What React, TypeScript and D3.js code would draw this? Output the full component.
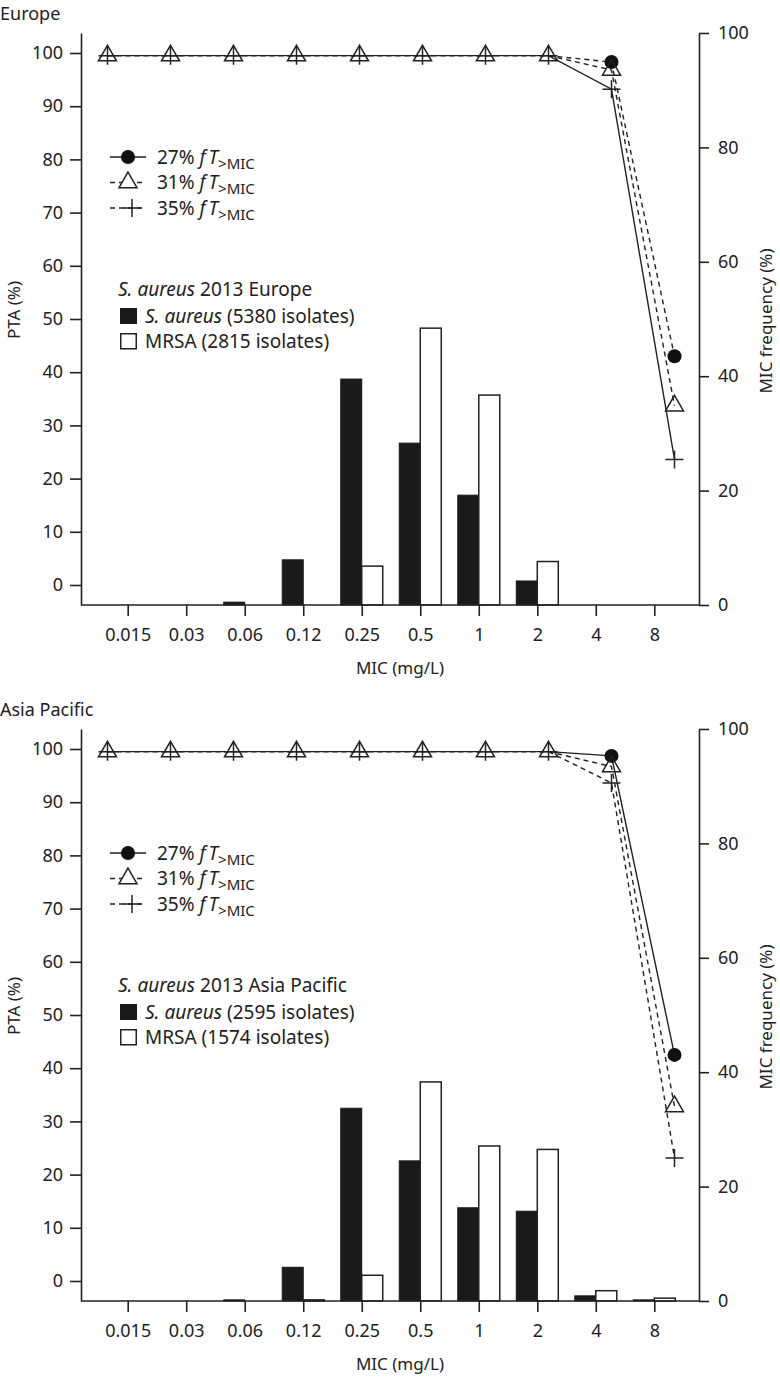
import React, { useEffect, useRef } from 'react';
import * as d3 from 'd3';

// MIC categories (mg/L)
const micLabels = ['0.015', '0.03', '0.06', '0.12', '0.25', '0.5', '1', '2', '4', '8'];
const ptaTicks = [0, 10, 20, 30, 40, 50, 60, 70, 80, 90, 100];
const freqTicks = [0, 20, 40, 60, 80, 100];

// Europe: MIC frequency (%)
const euSaureus = [0, 0, 0.5, 7.9, 39.5, 28.3, 19.2, 4.2, 0, 0];
const euMrsa = [0, 0, 0, 0, 6.8, 48.4, 36.7, 7.6, 0, 0];
// Europe: PTA (%)
const euPta27 = [99.5, 99.5, 99.5, 99.5, 99.5, 99.5, 99.5, 99.5, 98.3, 43.0];
const euPta31 = [99.5, 99.5, 99.5, 99.5, 99.5, 99.5, 99.5, 99.5, 96.8, 33.7];
const euPta35 = [99.5, 99.5, 99.5, 99.5, 99.5, 99.5, 99.5, 99.5, 93.2, 23.6];

// Asia Pacific: MIC frequency (%)
const apSaureus = [0, 0, 0.2, 5.9, 33.7, 24.5, 16.3, 15.7, 0.9, 0.2];
const apMrsa = [0, 0, 0, 0.2, 4.5, 38.3, 27.1, 26.5, 1.8, 0.5];
// Asia Pacific: PTA (%)
const apPta27 = [99.5, 99.5, 99.5, 99.5, 99.5, 99.5, 99.5, 99.5, 98.7, 42.5];
const apPta31 = [99.5, 99.5, 99.5, 99.5, 99.5, 99.5, 99.5, 99.5, 96.7, 32.8];
const apPta35 = [99.5, 99.5, 99.5, 99.5, 99.5, 99.5, 99.5, 99.5, 93.6, 23.1];

const targets = ['27%', '31%', '35%'];
const font = "'Noto Sans', sans-serif";
const ink = '#222';

const Panel = ({ top, title, legendTitle, saCount, mrsaCount, saureus, mrsa, pta, solid }) => {
  const ref = useRef<SVGGElement>(null);

  useEffect(() => {
    const g = d3.select(ref.current);
    g.selectAll('*').remove();

    const xTick = d3.scalePoint().domain(micLabels).range([127.7, 654.3]);
    const xLine = d3.scalePoint().domain(micLabels).range([107.5, 674.5]);
    const yLeft = d3.scaleLinear().domain([-3.76, 103.76]).range([605, 33]);
    const yRight = d3.scaleLinear().domain([0, 100]).range([605, 33]);
    const barW = 21;

    // bars
    g.append('g')
      .selectAll('rect')
      .data(saureus.map((v, i) => ({ v, c: micLabels[i] })).filter(d => d.v > 0))
      .join('rect')
      .attr('x', d => xTick(d.c) - barW)
      .attr('y', d => yRight(d.v))
      .attr('width', barW)
      .attr('height', d => yRight(0) - yRight(d.v))
      .attr('fill', '#1a1a1a')
      .attr('stroke', '#1a1a1a')
      .attr('stroke-width', 1);

    g.append('g')
      .selectAll('rect')
      .data(mrsa.map((v, i) => ({ v, c: micLabels[i] })).filter(d => d.v > 0))
      .join('rect')
      .attr('x', d => xTick(d.c))
      .attr('y', d => yRight(d.v))
      .attr('width', barW)
      .attr('height', d => yRight(0) - yRight(d.v))
      .attr('fill', '#fff')
      .attr('stroke', ink)
      .attr('stroke-width', 1.5);

    // axes
    const styleAxis = sel => {
      sel.attr('font-family', font).attr('font-size', 18);
      sel.selectAll('path, line').attr('stroke', ink).attr('stroke-width', 1.6);
      sel.selectAll('text').attr('fill', ink);
    };

    g.append('g')
      .attr('transform', 'translate(81,0)')
      .call(d3.axisLeft(yLeft).tickValues(ptaTicks).tickSize(11).tickSizeOuter(0).tickPadding(7))
      .call(styleAxis);

    g.append('g')
      .attr('transform', 'translate(699,0)')
      .call(d3.axisRight(yRight).tickValues(freqTicks).tickSize(10).tickSizeOuter(0).tickPadding(9))
      .call(styleAxis);

    const xAx = g.append('g')
      .attr('transform', 'translate(0,605)')
      .call(d3.axisBottom(xTick).tickSize(11).tickSizeOuter(0).tickPadding(12))
      .call(styleAxis);
    xAx.select('.domain').remove();
    xAx.append('line')
      .attr('x1', 81).attr('x2', 699)
      .attr('stroke', ink).attr('stroke-width', 1.6);

    // PTA lines
    const line = d3.line<number>()
      .x((d, i) => xLine(micLabels[i]))
      .y(d => yLeft(d));

    pta.forEach((s, k) => {
      g.append('path')
        .attr('d', line(s))
        .attr('fill', 'none')
        .attr('stroke', ink)
        .attr('stroke-width', 1.4)
        .attr('stroke-dasharray', k === solid ? null : '5,4');
    });

    const tri = d3.symbol(d3.symbolTriangle, 140)();
    const plus = 'M-9,0H9M0,-9V9';

    // circles at the shared 100% plateau are hidden in the original
    g.append('g')
      .selectAll('circle')
      .data(pta[0].map((v, i) => ({ v, c: micLabels[i] })).filter(d => d.v < 99))
      .join('circle')
      .attr('cx', d => xLine(d.c))
      .attr('cy', d => yLeft(d.v))
      .attr('r', 7)
      .attr('fill', '#111');

    g.append('g')
      .selectAll('path')
      .data(pta[1])
      .join('path')
      .attr('d', tri)
      .attr('transform', (d, i) => `translate(${xLine(micLabels[i])},${yLeft(d)})`)
      .attr('fill', 'none')
      .attr('stroke', ink)
      .attr('stroke-width', 1.5);

    g.append('g')
      .selectAll('path')
      .data(pta[2])
      .join('path')
      .attr('d', plus)
      .attr('transform', (d, i) => `translate(${xLine(micLabels[i])},${yLeft(d)})`)
      .attr('fill', 'none')
      .attr('stroke', ink)
      .attr('stroke-width', 1.5);

    // titles
    g.append('text').attr('x', 0).attr('y', 13.5).attr('dy', '0.35em')
      .attr('font-family', font).attr('font-size', 18).attr('fill', ink).text(title);

    g.append('text')
      .attr('transform', 'translate(14,310) rotate(-90)')
      .attr('text-anchor', 'middle').attr('dy', '0.35em')
      .attr('font-family', font).attr('font-size', 17).attr('fill', ink)
      .text('PTA (%)');

    g.append('text')
      .attr('transform', 'translate(766,321) rotate(-90)')
      .attr('text-anchor', 'middle').attr('dy', '0.35em')
      .attr('font-family', font).attr('font-size', 17).attr('fill', ink)
      .text('MIC frequency (%)');

    g.append('text')
      .attr('x', 400).attr('y', 668).attr('dy', '0.35em')
      .attr('text-anchor', 'middle')
      .attr('font-family', font).attr('font-size', 17).attr('fill', ink)
      .text('MIC (mg/L)');

    // PTA legend
    const leg = g.append('g').attr('font-family', font).attr('font-size', 19).attr('fill', ink);
    targets.forEach((t, k) => {
      const y = 157 + k * 25.5;
      leg.append('line')
        .attr('x1', 110).attr('x2', 146).attr('y1', y).attr('y2', y)
        .attr('stroke', ink).attr('stroke-width', 1.4)
        .attr('stroke-dasharray', k === 0 ? null : '5,4');
      if (k === 0) {
        leg.append('circle').attr('cx', 128).attr('cy', y).attr('r', 7).attr('fill', '#111');
      } else if (k === 1) {
        leg.append('path').attr('d', tri).attr('transform', `translate(128,${y})`)
          .attr('fill', '#fff').attr('stroke', ink).attr('stroke-width', 1.5);
      } else {
        leg.append('path').attr('d', plus).attr('transform', `translate(132,${y})`)
          .attr('fill', 'none').attr('stroke', ink).attr('stroke-width', 1.5);
      }
      const txt = leg.append('text').attr('x', 157).attr('y', y).attr('dy', '0.35em');
      txt.append('tspan').text(`${t} `);
      txt.append('tspan').attr('font-style', 'italic').text('f');
      txt.append('tspan').attr('font-style', 'italic').attr('dx', 3).text('T');
      txt.append('tspan').attr('font-size', 15).attr('dy', 5).text('>MIC');
    });

    // bar legend
    const bl = g.append('g').attr('font-family', font).attr('font-size', 19).attr('fill', ink);
    const t0 = bl.append('text').attr('x', 118).attr('y', 289).attr('dy', '0.35em');
    t0.append('tspan').attr('font-style', 'italic').text('S. aureus');
    t0.append('tspan').text(` 2013 ${legendTitle}`);

    bl.append('rect').attr('x', 120).attr('y', 308).attr('width', 17).attr('height', 16)
      .attr('fill', '#1a1a1a');
    const t1 = bl.append('text').attr('x', 145).attr('y', 316.5).attr('dy', '0.35em');
    t1.append('tspan').attr('font-style', 'italic').text('S. aureus');
    t1.append('tspan').text(` (${saCount} isolates)`);

    bl.append('rect').attr('x', 120.75).attr('y', 333.75).attr('width', 15.5).attr('height', 15)
      .attr('fill', '#fff').attr('stroke', ink).attr('stroke-width', 1.5);
    bl.append('text').attr('x', 145).attr('y', 341).attr('dy', '0.35em')
      .text(`MRSA (${mrsaCount} isolates)`);
  }, [top, title, legendTitle, saCount, mrsaCount, saureus, mrsa, pta, solid]);

  return <g ref={ref} transform={`translate(0,${top})`} />;
};

const App = () => (
  <svg width={780} height={1378} style={{ position: 'absolute', left: 0, top: 0, background: '#fff' }}>
    <Panel top={0} title="Europe" legendTitle="Europe" saCount={5380} mrsaCount={2815}
      saureus={euSaureus} mrsa={euMrsa} pta={[euPta27, euPta31, euPta35]} solid={2} />
    <Panel top={696} title="Asia Pacific" legendTitle="Asia Pacific" saCount={2595} mrsaCount={1574}
      saureus={apSaureus} mrsa={apMrsa} pta={[apPta27, apPta31, apPta35]} solid={0} />
  </svg>
);

export default App;
